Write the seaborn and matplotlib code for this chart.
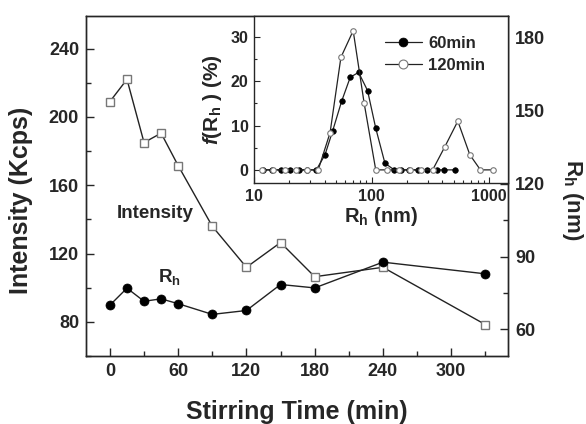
import matplotlib
matplotlib.use("Agg")
import matplotlib.pyplot as plt
import seaborn as sns
from matplotlib.ticker import (MultipleLocator, LogLocator, NullFormatter,
                               FixedLocator, FixedFormatter)

# ── Data ───────────────────────────────────────────────────────────────────
stir_time = [0, 15, 30, 45, 60, 90, 120, 150, 180, 240, 330]
intensity = [209, 222, 185, 190.5, 171.5, 136, 112, 126.5, 106.5, 112, 78.5]
rh = [70, 77, 71.6, 72.6, 70.6, 66.2, 67.8, 78.5, 77.1, 87.7, 82.9]

r_60 = [12.0, 14.3, 17.0, 20.2, 24.0, 28.5, 33.9, 40.2, 46.7, 55.7, 65.9, 77.6,
        92.5, 108.6, 130, 156, 177, 208, 250, 298, 357, 412, 508]
f_60 = [0, 0, 0, 0, 0, 0, 0, 3.4, 8.8, 15.5, 20.9, 22.0,
        17.9, 9.4, 1.5, 0, 0, 0, 0, 0, 0, 0, 0]

r_120 = [11.6, 14.5, 18.2, 22.6, 28.3, 35.2, 44.4, 54.9, 69.8, 86.6, 108.6,
         135, 170, 213, 263, 331, 418, 542, 686, 844, 1081]
f_120 = [0, 0, 0, 0, 0, 0, 8.4, 25.4, 31.4, 15.0, 0,
         0, 0, 0, 0, 0, 5.1, 11.0, 3.4, 0, 0]

# ── Style ──────────────────────────────────────────────────────────────────
sns.set_style("ticks")
plt.rcParams["font.family"] = ["Liberation Sans", "DejaVu Sans"]
plt.rcParams["font.weight"] = "bold"
plt.rcParams["mathtext.fontset"] = "custom"
plt.rcParams["mathtext.rm"] = "Liberation Sans:bold"
plt.rcParams["mathtext.bf"] = "Liberation Sans:bold"
plt.rcParams["mathtext.it"] = "Liberation Sans:italic:bold"
plt.rcParams["axes.linewidth"] = 1.0

LINE = "#222222"
EDGE = "#777777"

fig = plt.figure(figsize=(5.86, 4.24), dpi=100)
ax = fig.add_axes([0.1468, 0.160, 0.7202, 0.802])
ax2 = ax.twinx()

sns.lineplot(x=stir_time, y=intensity, ax=ax, color=LINE, linewidth=1.0,
             marker="s", markersize=6, markerfacecolor="white",
             markeredgecolor=EDGE, markeredgewidth=1.0, legend=False)
sns.lineplot(x=stir_time, y=rh, ax=ax2, color=LINE, linewidth=1.0,
             marker="o", markersize=6.5, markerfacecolor="black",
             markeredgecolor="black", markeredgewidth=0.5, legend=False)

ax.set_xlim(-21, 350)
ax.set_ylim(60, 259)
ax2.set_ylim(49, 189)

ax.xaxis.set_major_locator(MultipleLocator(60))
ax.xaxis.set_minor_locator(MultipleLocator(30))
ax.yaxis.set_major_locator(MultipleLocator(40))
ax.yaxis.set_minor_locator(MultipleLocator(20))
ax2.yaxis.set_major_locator(MultipleLocator(30))
ax2.yaxis.set_minor_locator(MultipleLocator(15))

for a in (ax, ax2):
    a.tick_params(which="both", direction="in", labelsize=13, width=1.0)
    a.tick_params(which="major", length=6, pad=5)
    a.tick_params(which="minor", length=3.5)
ax.tick_params(axis="y", which="both", right=False)
ax2.tick_params(axis="y", which="both", left=False)

ax.set_xlabel("Stirring Time (min)", fontsize=18, fontweight="bold")
ax.set_ylabel("Intensity (Kcps)", fontsize=18, fontweight="bold")
ax2.set_ylabel("R$_{\\mathrm{h}}$ (nm)", fontsize=16, fontweight="bold",
               rotation=270, va="bottom")
ax.xaxis.set_label_coords(0.5, -0.13)
ax.yaxis.set_label_coords(-0.125, 0.459)
ax2.yaxis.set_label_coords(1.124, 0.459)

ax.text(40, 143.6, "Intensity", fontsize=13.5, fontweight="bold",
        ha="center", va="center")
ax2.text(52, 81.5, "R$_{\\mathrm{h}}$", fontsize=13.5, fontweight="bold",
         ha="center", va="center")

# ── Inset: size distributions ──────────────────────────────────────────────
ax_in = fig.add_axes([0.4334, 0.568, 0.4336, 0.394])
ax_in.set_facecolor("white")
sns.lineplot(x=r_60, y=f_60, ax=ax_in, color=LINE, linewidth=0.9,
             marker="o", markersize=4, markerfacecolor="black",
             markeredgecolor="black", markeredgewidth=0.5, label="60min")
sns.lineplot(x=r_120, y=f_120, ax=ax_in, color=LINE, linewidth=0.9,
             marker="o", markersize=4, markerfacecolor="white",
             markeredgecolor=EDGE, markeredgewidth=0.8, label="120min")

ax_in.set_xscale("log")
ax_in.set_xlim(10, 1450)
ax_in.set_ylim(-3, 34.7)
ax_in.xaxis.set_major_locator(FixedLocator([10, 100, 1000]))
ax_in.xaxis.set_major_formatter(FixedFormatter(["10", "100", "1000"]))
ax_in.xaxis.set_minor_locator(LogLocator(base=10, subs=range(2, 10)))
ax_in.xaxis.set_minor_formatter(NullFormatter())
ax_in.yaxis.set_major_locator(MultipleLocator(10))
ax_in.yaxis.set_minor_locator(MultipleLocator(5))
ax_in.tick_params(which="both", direction="in", labelsize=11.5, width=0.8,
                  top=False, right=False)
ax_in.tick_params(which="major", length=4, pad=4)
ax_in.tick_params(which="minor", length=2.5)

ax_in.set_xlabel("R$_{\\mathrm{h}}$ (nm)", fontsize=14.5, fontweight="bold")
ax_in.set_ylabel("$\\mathit{f}$(R$_{\\mathrm{h}}$ ) (%)", fontsize=15,
                 fontweight="bold")
ax_in.xaxis.set_label_coords(0.5, -0.13)
ax_in.yaxis.set_label_coords(-0.1165, 0.50)

ax_in.legend(loc="upper right", bbox_to_anchor=(0.97, 0.97), frameon=False,
             fontsize=12, handlelength=2.2, handletextpad=0.4,
             labelspacing=0.4, markerscale=1.6)

fig.savefig("out.png", dpi=100)
